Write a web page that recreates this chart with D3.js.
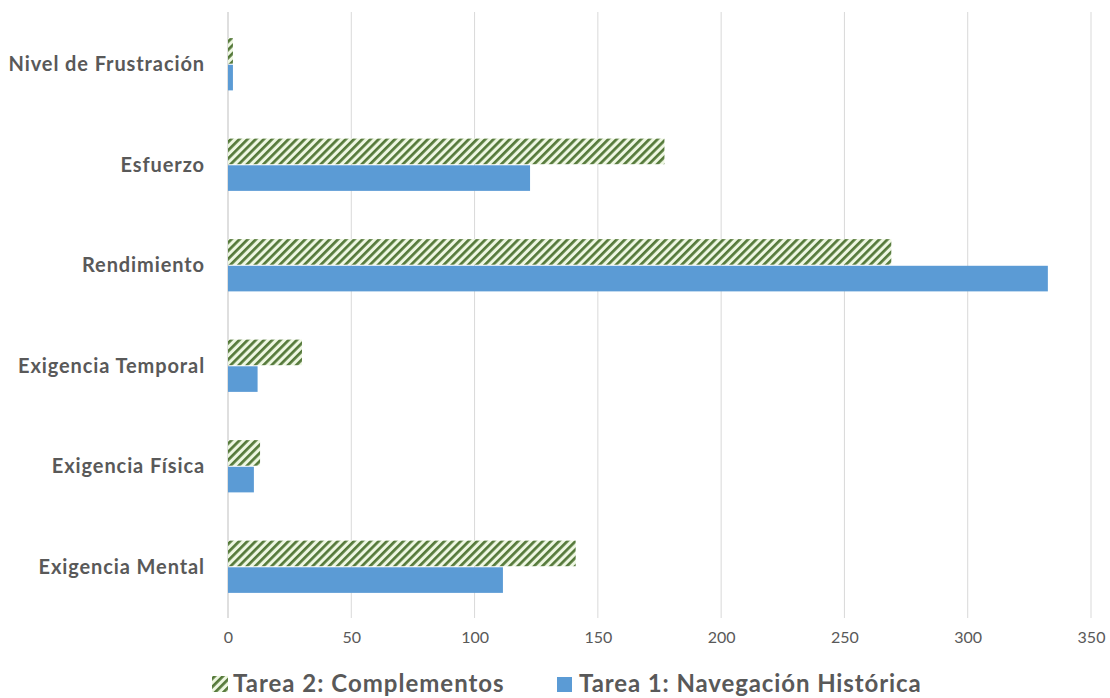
<!DOCTYPE html>
<html>
<head>
<meta charset="utf-8">
<script src="https://cdn.jsdelivr.net/npm/d3@7"></script>
<style>
  html, body { margin: 0; padding: 0; background: #fff; }
  svg { display: block; }
</style>
</head>
<body>
<svg id="chart" width="1110" height="698"></svg>
<script>
// Categories, listed from top to bottom
const categories = [
  "Nivel de Frustración",
  "Esfuerzo",
  "Rendimiento",
  "Exigencia Temporal",
  "Exigencia Física",
  "Exigencia Mental"
];
const seriesNames = ["Tarea 2: Complementos", "Tarea 1: Navegación Histórica"];
const tarea2 = [2, 177, 269, 30, 13, 141];
const tarea1 = [2, 122.5, 332.5, 12, 10.5, 111.5];
const xTicks = [0, 50, 100, 150, 200, 250, 300, 350];

const FONT = "Lato, 'Open Sans', sans-serif";
const svg = d3.select("#chart");
const margin = { left: 228, right: 19, top: 14, bottom: 81 };
const W = 1110, H = 698;

const x = d3.scaleLinear().domain([0, 350]).range([margin.left, W - margin.right]);
const y = d3.scaleBand().domain(categories).range([margin.top, H - margin.bottom]).paddingInner(0.48).paddingOuter(0.24);
const sub = d3.scaleBand().domain(seriesNames).range([0, y.bandwidth()]).paddingInner(0.04);

// Diagonal hatch fill for the second task
const defs = svg.append("defs");
const pat = defs.append("pattern")
  .attr("id", "hatch")
  .attr("patternUnits", "userSpaceOnUse")
  .attr("width", 5.8).attr("height", 5.8)
  .attr("patternTransform", "rotate(45)");
pat.append("rect").attr("width", 5.8).attr("height", 5.8).attr("fill", "#eef7e2");
pat.append("rect").attr("width", 2.7).attr("height", 5.8).attr("fill", "#55793a");

// Gridlines
svg.append("g")
  .selectAll("line")
  .data(xTicks)
  .join("line")
  .attr("x1", d => x(d)).attr("x2", d => x(d))
  .attr("y1", margin.top - 2).attr("y2", H - margin.bottom + 1)
  .attr("stroke", d => d === 0 ? "#bfbfbf" : "#d9d9d9")
  .attr("stroke-width", 1);

// Bars
const groups = svg.append("g").selectAll("g")
  .data(categories)
  .join("g")
  .attr("transform", d => `translate(0,${y(d)})`);

groups.append("rect")
  .attr("x", x(0))
  .attr("y", sub(seriesNames[0]))
  .attr("height", sub.bandwidth())
  .attr("width", (d, i) => x(tarea2[i]) - x(0))
  .attr("fill", "url(#hatch)");

groups.append("rect")
  .attr("x", x(0))
  .attr("y", sub(seriesNames[1]))
  .attr("height", sub.bandwidth())
  .attr("width", (d, i) => x(tarea1[i]) - x(0))
  .attr("fill", "#5b9bd5");

// Category labels
svg.append("g")
  .selectAll("text")
  .data(categories)
  .join("text")
  .attr("x", margin.left - 23)
  .attr("y", d => y(d) + y.bandwidth() / 2)
  .attr("dy", "0.35em")
  .attr("text-anchor", "end")
  .attr("font-family", FONT)
  .attr("font-weight", "bold")
  .attr("font-size", 20)
  .attr("letter-spacing", 0.9)
  .attr("fill", "#595959")
  .text(d => d);

// X axis tick labels
const xAxis = d3.axisBottom(x).tickValues(xTicks).tickSize(0).tickPadding(0);
const gx = svg.append("g")
  .attr("transform", `translate(0,${H - margin.bottom + 15})`)
  .call(xAxis);
gx.select(".domain").remove();
gx.selectAll("text")
  .attr("font-family", FONT)
  .attr("font-size", 16)
  .attr("fill", "#595959");

// Legend
const legend = svg.append("g").attr("transform", "translate(0,684)");
legend.append("rect").attr("x", 212).attr("y", -8).attr("width", 16).attr("height", 16).attr("fill", "url(#hatch)");
legend.append("text").attr("x", 233).attr("y", 0).attr("dy", "0.35em")
  .attr("font-family", FONT).attr("font-weight", "bold")
  .attr("font-size", 24).attr("letter-spacing", 1)
  .attr("fill", "#595959").text(seriesNames[0]);
legend.append("rect").attr("x", 557).attr("y", -7).attr("width", 15).attr("height", 15).attr("fill", "#5b9bd5");
legend.append("text").attr("x", 579).attr("y", 0).attr("dy", "0.35em")
  .attr("font-family", FONT).attr("font-weight", "bold")
  .attr("font-size", 24).attr("letter-spacing", 0.9)
  .attr("fill", "#595959").text(seriesNames[1]);
</script>
</body>
</html>
